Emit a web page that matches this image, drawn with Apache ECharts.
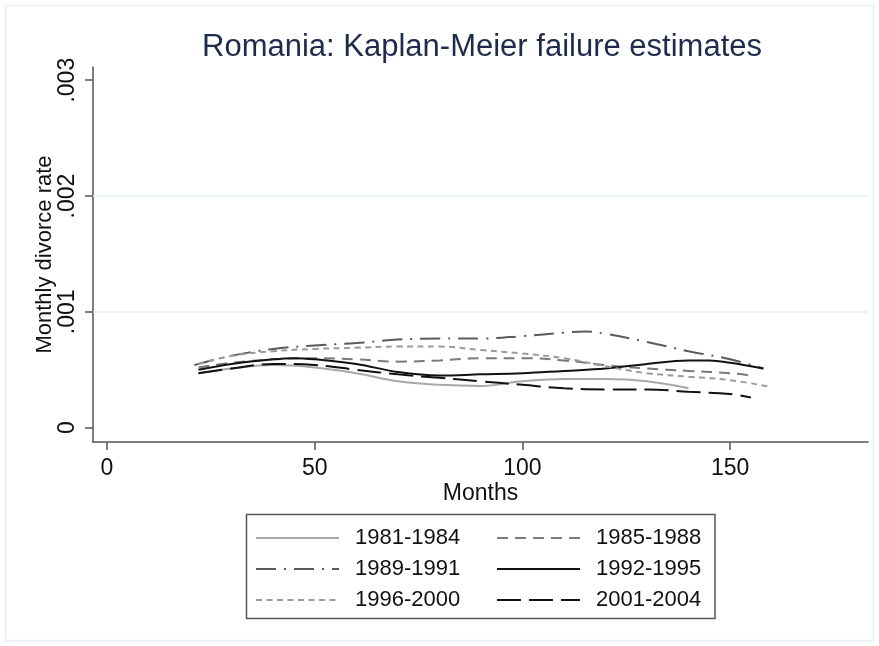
<!DOCTYPE html>
<html><head><meta charset="utf-8">
<script src="https://cdn.jsdelivr.net/npm/echarts@6/dist/echarts.min.js"></script>
<style>html,body{margin:0;padding:0;background:#fff}#c{width:879px;height:646px}</style>
</head><body><div id="c"></div>
<script>
// Data (months, monthly divorce rate)
const names = ['1981-1984','1985-1988','1989-1991','1992-1995','1996-2000','2001-2004'];
const s1981 = [[22,0.00047],[30,0.00051],[40,0.00054],[50,0.00052],[60,0.00047],[70,0.00040],[80,0.00037],[90,0.00036],[100,0.00040],[110,0.00042],[120,0.00042],[130,0.00040],[140,0.00034]];
const s1985 = [[22,0.00052],[30,0.00056],[40,0.00059],[50,0.00060],[60,0.00059],[70,0.00057],[80,0.00058],[90,0.00060],[100,0.00060],[110,0.00058],[120,0.00054],[130,0.00051],[140,0.00049],[150,0.00047],[155,0.00045]];
const s1989 = [[21,0.00054],[30,0.00062],[40,0.00068],[50,0.00071],[60,0.00073],[70,0.00076],[80,0.00077],[90,0.00077],[100,0.00079],[110,0.00082],[115,0.00083],[120,0.00081],[130,0.00074],[140,0.00066],[150,0.00059],[158,0.00051]];
const s1992 = [[22,0.00050],[30,0.00055],[40,0.00059],[45,0.00060],[50,0.00059],[60,0.00055],[70,0.00048],[80,0.00045],[90,0.00046],[100,0.00047],[110,0.00049],[120,0.00051],[130,0.00055],[140,0.00058],[145,0.00058],[150,0.00056],[158,0.00051]];
const s1996 = [[22,0.00055],[30,0.00062],[40,0.00066],[50,0.00068],[60,0.00069],[70,0.00070],[80,0.00070],[90,0.00067],[100,0.00064],[110,0.00060],[120,0.00053],[130,0.00047],[140,0.00044],[150,0.00041],[160,0.00035]];
const s2001 = [[22,0.00047],[30,0.00051],[40,0.00055],[50,0.00054],[60,0.00050],[70,0.00046],[80,0.00043],[90,0.00040],[100,0.00037],[110,0.00034],[120,0.00033],[130,0.00033],[140,0.00031],[150,0.00029],[155,0.00026]];
const xTicks = [0,50,100,150];
const yTicks = [0,0.001,0.002,0.003];
const yTickLabels = ['0','.001','.002','.003'];
const gridValues = [0.001,0.002];

const FONT = 'Liberation Sans, Arial, sans-serif';
const styles = [
  {color:'#a8a8a8', width:2, type:'solid'},
  {color:'#7a7a7a', width:2, type:[11,7]},
  {color:'#5a5a5a', width:2, type:[20,8,2,8]},
  {color:'#111111', width:2, type:'solid'},
  {color:'#9a9a9a', width:2, type:[6,4.5]},
  {color:'#111111', width:2, type:[24,8]}
];
const datas = [s1981,s1985,s1989,s1992,s1996,s2001];
const series = names.map((n,i)=>({
  name:n, type:'line', data:datas[i], smooth:0.4, symbol:'none', silent:true,
  lineStyle:{color:styles[i].color,width:styles[i].width,type:styles[i].type},
  itemStyle:{color:styles[i].color}, z:3
}));
series[0].markLine = {silent:true, symbol:'none', label:{show:false}, animation:false, precision:6,
  lineStyle:{color:'#e3eff2', width:1.5, type:'solid'},
  data: gridValues.map(v=>({yAxis:v}))};
series[0].markLine.z = 1;
const legendCommon = {
  orient:'vertical', itemWidth:83, itemHeight:14, itemGap:9,
  itemStyle:{opacity:0, borderWidth:0},
  textStyle:{fontFamily:FONT, fontSize:22, color:'#111', lineHeight:22, padding:[0,0,0,11]},
  selectedMode:false
};
const chart = echarts.init(document.getElementById('c'), null, {renderer:'canvas'});
chart.setOption({
  animation:false,
  backgroundColor:'#fff',
  title:{text:'Romania: Kaplan-Meier failure estimates', left:477, textAlign:'center', top:27,
    textStyle:{fontFamily:FONT, fontSize:31, fontWeight:'normal', color:'#1e2b4a'}},
  grid:{left:93, right:11, top:67, bottom:204, containLabel:false},
  xAxis:{type:'value', min:-3.37, max:183.2, name:'Months', nameLocation:'middle', nameGap:40, nameMoveOverlap:false,
    nameTextStyle:{fontFamily:FONT, fontSize:23, color:'#111'},
    axisLine:{show:true, onZero:false, lineStyle:{color:'#555', width:1.5}},
    axisTick:{show:true, length:8, customValues:xTicks, lineStyle:{color:'#555', width:1.5}},
    axisLabel:{customValues:xTicks, margin:15, fontFamily:FONT, fontSize:23, color:'#111'},
    splitLine:{show:false}},
  yAxis:{type:'value', min:-0.000124, max:0.003114, name:'Monthly divorce rate', nameLocation:'middle', nameGap:37, nameMoveOverlap:false,
    nameTextStyle:{fontFamily:FONT, fontSize:22, color:'#111'},
    axisLine:{show:true, onZero:false, lineStyle:{color:'#555', width:1.5}},
    axisTick:{show:true, length:8, customValues:yTicks, lineStyle:{color:'#555', width:1.5}},
    axisLabel:{customValues:yTicks, rotate:90, margin:14, fontFamily:FONT, fontSize:23, color:'#111',
      formatter:function(v){ const i = yTicks.findIndex(t=>Math.abs(t-v)<1e-9); return i>=0?yTickLabels[i]:''; }},
    splitLine:{show:false}},
  legend:[
    Object.assign({left:250, top:522, data:[names[0],names[2],names[4]]}, legendCommon),
    Object.assign({left:491, top:522, data:[names[1],names[3],names[5]]}, legendCommon)
  ],
  graphic:[
    {type:'rect', shape:{x:5.5,y:5.5,width:868,height:635}, style:{fill:null, stroke:'#e6eef0', lineWidth:1.5}, silent:true, z:-1},
    {type:'rect', shape:{x:246.5,y:514.5,width:468.5,height:104}, style:{fill:null, stroke:'#555', lineWidth:1.5}, silent:true}
  ],
  series:series
});
</script></body></html>
